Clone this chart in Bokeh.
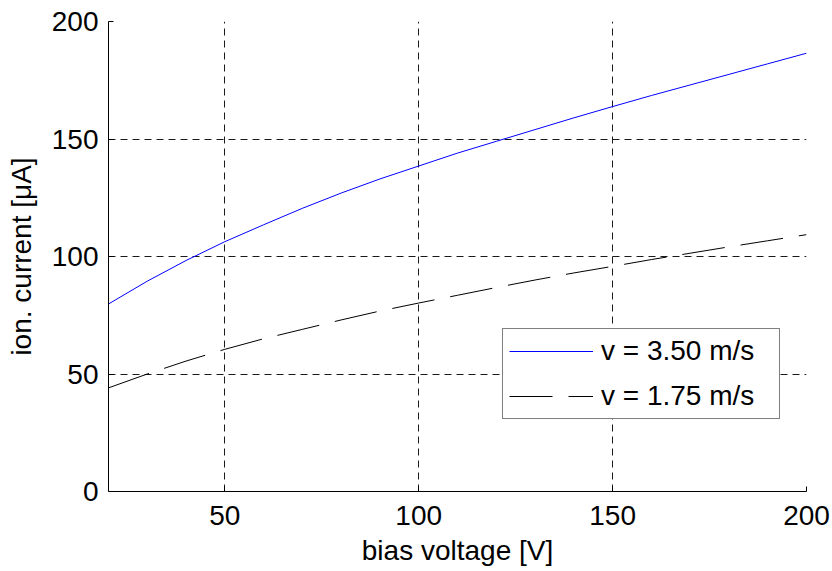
from bokeh.plotting import figure
from bokeh.models import Range1d, FixedTicker, Legend, LegendItem
from bokeh.embed import file_html
from bokeh.resources import INLINE

# bias voltage [V]
bias_v = [20, 30, 40, 50, 60, 70, 80, 90, 100, 110, 120, 130, 140, 150, 160, 170, 180, 190, 200]
# ion current [uA] at v = 3.50 m/s
current_350 = [79.8, 89.5, 98.3, 106.3, 113.5, 120.5, 127.0, 133.0, 138.5, 144.0, 149.0,
               154.0, 159.0, 163.8, 168.5, 173.0, 177.5, 182.0, 186.5]
# ion current [uA] at v = 1.75 m/s
current_175 = [44.1, 50.0, 55.5, 60.5, 65.0, 69.0, 73.0, 76.8, 80.2, 83.5, 86.8,
               90.0, 93.0, 95.8, 98.7, 101.4, 104.1, 106.7, 109.3]

x_ticks = [50, 100, 150, 200]
y_ticks = [0, 50, 100, 150, 200]
labels = ["v = 3.50 m/s", "v = 1.75 m/s"]

FONT = "Liberation Sans"
FS = "28px"

p = figure(width=832, height=568, output_backend="svg", toolbar_location=None,
           x_range=Range1d(20, 200), y_range=Range1d(0, 200),
           min_border_left=108, min_border_right=26, min_border_top=21,
           min_border_bottom=75)

p.outline_line_color = None
p.background_fill_color = "white"
p.border_fill_color = "white"

for ax in (p.xaxis[0], p.yaxis[0]):
    ax.axis_line_color = "black"
    ax.axis_line_width = 1
    ax.major_tick_in = 5
    ax.major_tick_out = 0
    ax.minor_tick_line_color = None
    ax.major_tick_line_color = "black"
    ax.major_label_text_font = FONT
    ax.major_label_text_font_size = FS
    ax.major_label_text_color = "black"
    ax.axis_label_text_font = FONT
    ax.axis_label_text_font_size = FS
    ax.axis_label_text_font_style = "normal"
    ax.axis_label_text_color = "black"

p.xaxis.ticker = FixedTicker(ticks=x_ticks)
p.yaxis.ticker = FixedTicker(ticks=y_ticks)
p.xaxis.axis_label = "bias voltage [V]"
p.yaxis.axis_label = "ion. current [μA]"
p.xaxis.major_label_standoff = 14
p.xaxis.axis_label_standoff = 7
p.yaxis.major_label_standoff = 10
p.yaxis.axis_label_standoff = 12

for g in (p.xgrid[0], p.ygrid[0]):
    g.grid_line_color = "#1a1a1a"
    g.grid_line_width = 1
    g.grid_line_dash = "7 5"

r1 = p.line(bias_v, current_350, line_color="#0000ff", line_width=1)
r2 = p.line(bias_v, current_175, line_color="black", line_width=1, line_dash="43 16")

legend = Legend(items=[LegendItem(label=labels[0], renderers=[r1]),
                       LegendItem(label=labels[1], renderers=[r2])],
                location=(394, 72))
legend.label_text_font = FONT
legend.label_text_font_size = FS
legend.label_text_color = "black"
legend.border_line_color = "black"
legend.border_line_width = 1
legend.background_fill_color = "white"
legend.background_fill_alpha = 1
legend.padding = 6
legend.margin = 0
legend.spacing = 13
legend.glyph_width = 84
legend.glyph_height = 32
legend.label_height = 32
legend.label_width = 172
legend.label_standoff = 8
p.add_layout(legend, "center")

open("out.html", "w").write(file_html(p, INLINE))
